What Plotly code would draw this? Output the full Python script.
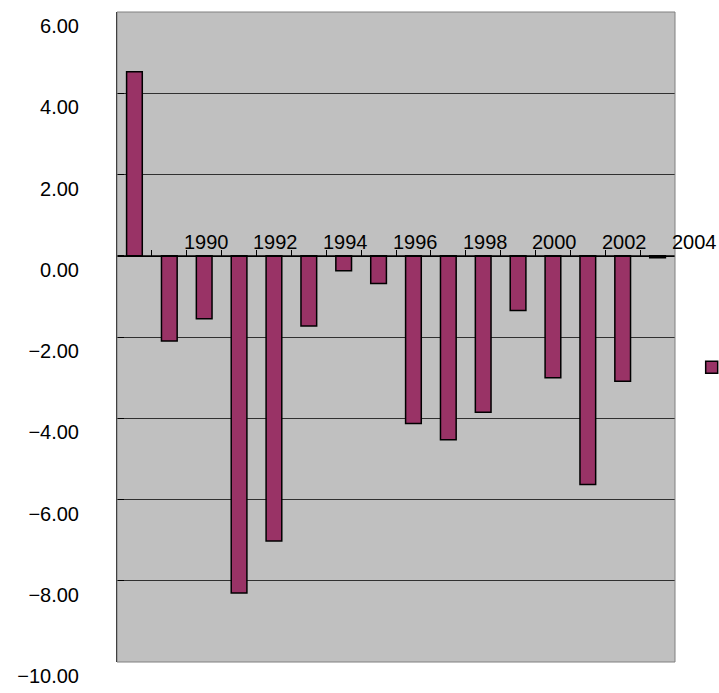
import plotly.graph_objects as go

years = list(range(1988, 2004))
values = [4.53, -2.10, -1.55, -8.30, -7.02, -1.73, -0.37, -0.68,
          -4.13, -4.53, -3.85, -1.35, -3.00, -5.63, -3.09, -0.05]
x_labels = [1990, 1992, 1994, 1996, 1998, 2000, 2002, 2004]
y_ticks = [-10, -8, -6, -4, -2, 0, 2, 4, 6]
cat_bounds = [y + 0.5 for y in range(1988, 2004)]

X_RANGE = [years[0] - 0.5, years[-1] + 0.5]
FONT = "Liberation Sans, Arial, sans-serif"

fig = go.Figure()
fig.add_trace(go.Bar(
    x=years, y=values, width=0.45, name="",
    marker=dict(color="#993366", line=dict(color="black", width=1.5)),
    showlegend=True,
))

fig.update_layout(
    width=719, height=693,
    margin=dict(l=117, r=44, t=12, b=31, pad=0, autoexpand=False),
    paper_bgcolor="white", plot_bgcolor="#C0C0C0",
    font=dict(family=FONT, size=20, color="black"),
    showlegend=True,
    legend=dict(xref="container", yref="container", x=0.962, y=0.47,
                xanchor="left", yanchor="middle",
                bgcolor="rgba(0,0,0,0)", borderwidth=0,
                font=dict(size=12)),
    xaxis=dict(range=X_RANGE, anchor="free", position=0.625,
               showgrid=False, zeroline=False, showline=True,
               linecolor="black", linewidth=1, automargin=False,
               tickmode="array", tickvals=cat_bounds, ticks="inside",
               ticklen=6, tickcolor="black", tickwidth=1,
               showticklabels=False),
    yaxis=dict(range=[-10, 6], tickmode="array", tickvals=y_ticks,
               tickformat=".2f", showgrid=True, gridcolor="#303030",
               gridwidth=1, zeroline=False, showline=True, automargin=False,
               linecolor="black", linewidth=1, ticks="inside",
               ticklen=7, tickcolor="black", ticklabelstandoff=33,
               ticklabelshift=14,
               tickfont=dict(size=20)),
    bargap=0.55,
)

fig.add_shape(type="rect", xref="paper", yref="paper", x0=0, x1=1, y0=0, y1=1,
              line=dict(color="#808080", width=1), layer="above")

span = X_RANGE[1] - X_RANGE[0]
for yr in x_labels:
    fig.add_annotation(x=(yr - X_RANGE[0]) / span, y=0, xref="x domain", yref="y",
                       text=str(yr), showarrow=False, yanchor="bottom",
                       xanchor="center", xshift=2, yshift=1,
                       font=dict(size=20, family=FONT))

fig.write_html("out.html")
